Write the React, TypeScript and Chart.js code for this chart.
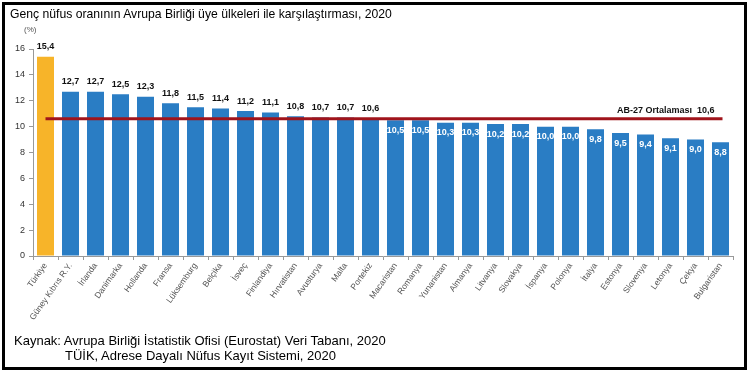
import React, { useEffect, useRef } from "react";
import { Chart, registerables } from "chart.js";

Chart.register(...registerables);

const countries = [
  "Türkiye", "Güney Kıbrıs R.Y.", "İrlanda", "Danimarka", "Hollanda", "Fransa", "Lüksemburg",
  "Belçika", "İsveç", "Finlandiya", "Hırvatistan", "Avusturya", "Malta", "Portekiz",
  "Macaristan", "Romanya", "Yunanistan", "Almanya", "Litvanya", "Slovakya", "İspanya",
  "Polonya", "İtalya", "Estonya", "Slovenya", "Letonya", "Çekya", "Bulgaristan",
];
const values = [
  15.4, 12.7, 12.7, 12.5, 12.3, 11.8, 11.5, 11.4, 11.2, 11.1, 10.8, 10.7, 10.7, 10.6,
  10.5, 10.5, 10.3, 10.3, 10.2, 10.2, 10.0, 10.0, 9.8, 9.5, 9.4, 9.1, 9.0, 8.8,
];
const euAverage = 10.6;
const averageLabel = "AB-27 Ortalaması";
const yTicks = [0, 2, 4, 6, 8, 10, 12, 14, 16];
const title = "Genç nüfus oranının Avrupa Birliği üye ülkeleri ile karşılaştırması, 2020";
const unitLabel = "(%)";
const source1 = "Kaynak: Avrupa Birliği İstatistik Ofisi (Eurostat) Veri Tabanı, 2020";
const source2 = "TÜİK, Adrese Dayalı Nüfus Kayıt Sistemi, 2020";

const FONT = "'Liberation Sans', Arial, Helvetica, sans-serif";
const fmt = (v: number) => v.toFixed(1).replace(".", ",");

export default function App() {
  const ref = useRef<HTMLCanvasElement | null>(null);

  useEffect(() => {
    if (!ref.current) return;
    const labelPlugin = {
      id: "labelsAndAvg",
      afterDatasetsDraw(chart: any) {
        const ctx = chart.ctx;
        const meta = chart.getDatasetMeta(0);
        const y = chart.scales.y;
        const x = chart.scales.x;
        ctx.save();
        ctx.font = `bold 9px ${FONT}`;
        ctx.textAlign = "center";
        ctx.textBaseline = "middle";
        meta.data.forEach((bar: any, i: number) => {
          const v = values[i];
          const top = y.getPixelForValue(v);
          if (v >= euAverage) {
            ctx.fillStyle = "#111";
            ctx.fillText(fmt(v), bar.x, top - 10);
          } else {
            ctx.fillStyle = "#ffffff";
            ctx.fillText(fmt(v), bar.x, top + 10);
          }
        });
        // average line
        const ya = y.getPixelForValue(euAverage);
        const x0 = x.getPixelForValue(0);
        const x1 = x.getPixelForValue(countries.length - 1) + 2;
        ctx.strokeStyle = "#a0141b";
        ctx.lineWidth = 3;
        ctx.beginPath();
        ctx.moveTo(x0, ya);
        ctx.lineTo(x1, ya);
        ctx.stroke();
        ctx.fillStyle = "#111";
        ctx.font = `bold 9px ${FONT}`;
        ctx.textAlign = "right";
        ctx.textBaseline = "middle";
        ctx.fillText(`${averageLabel}  ${fmt(euAverage)}`, x1 - 8, ya - 8);
        ctx.restore();
      },
    };

    const chart = new Chart(ref.current, {
      type: "bar",
      data: {
        labels: countries,
        datasets: [
          {
            data: values,
            backgroundColor: values.map((_, i) => (i === 0 ? "#f7b429" : "#2a7dc4")),
            barPercentage: 0.68,
            categoryPercentage: 1,
          },
        ],
      },
      options: {
        animation: false,
        responsive: false,
        devicePixelRatio: 1,
        layout: { padding: { top: 49, right: 17, left: 0, bottom: 0 } },
        plugins: { legend: { display: false }, tooltip: { enabled: false }, title: { display: false } },
        scales: {
          x: {
            afterFit(scale: any) {
              scale.height = 120;
            },
            grid: { drawOnChartArea: false, drawTicks: true, tickLength: 4, color: "#999", offset: true },
            border: { color: "#999" },
            ticks: {
              autoSkip: false,
              maxRotation: 55,
              minRotation: 55,
              color: "#555",
              font: { family: FONT, size: 8.5 },
              padding: 1,
            },
          },
          y: {
            min: 0,
            max: 16,
            afterFit(scale: any) {
              scale.width = 33;
            },
            afterBuildTicks(scale: any) {
              scale.ticks = yTicks.map((v) => ({ value: v }));
            },
            grid: { drawOnChartArea: false, drawTicks: true, tickLength: 4, color: "#999" },
            border: { color: "#999" },
            ticks: { color: "#333", font: { family: FONT, size: 9 }, padding: 4 },
          },
        },
      },
      plugins: [labelPlugin],
    });
    return () => chart.destroy();
  }, []);

  return (
    <div
      style={{
        position: "fixed",
        left: 0,
        top: 0,
        width: 750,
        height: 376,
        background: "#fff",
        fontFamily: FONT,
        overflow: "hidden",
      }}
    >
      <canvas ref={ref} width={750} height={376} style={{ position: "absolute", left: 0, top: 0 }} />
      <div
        style={{
          position: "absolute",
          left: 2,
          top: 2,
          width: 739,
          height: 362,
          border: "3px solid #000",
          pointerEvents: "none",
        }}
      />
      <div style={{ position: "absolute", left: 10, top: 7, fontSize: 12.2, color: "#000", whiteSpace: "nowrap" }}>
        {title}
      </div>
      <div style={{ position: "absolute", left: 24, top: 25, fontSize: 8, color: "#555" }}>{unitLabel}</div>
      <div style={{ position: "absolute", left: 14, top: 333, fontSize: 13, color: "#000", whiteSpace: "nowrap" }}>
        {source1}
      </div>
      <div style={{ position: "absolute", left: 65, top: 348, fontSize: 13, color: "#000", whiteSpace: "nowrap" }}>
        {source2}
      </div>
    </div>
  );
}
